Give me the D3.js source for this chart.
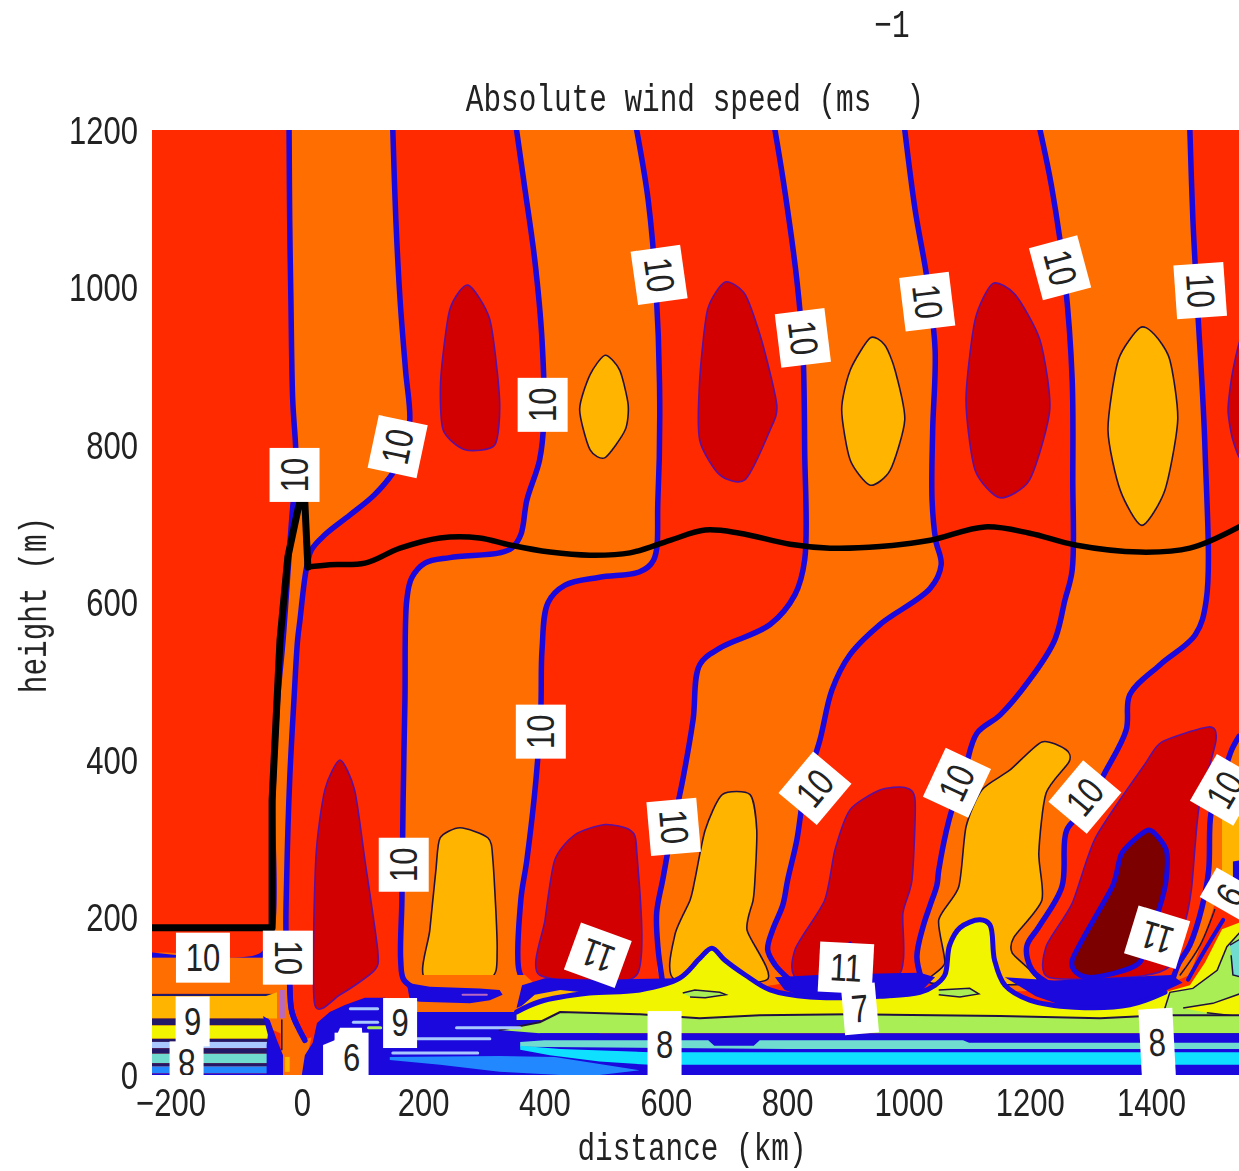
<!DOCTYPE html>
<html>
<head>
<meta charset="utf-8">
<title>Absolute wind speed</title>
<script src="https://cdnjs.cloudflare.com/ajax/libs/d3/7.8.5/d3.min.js"></script>
<style>
  html, body { margin: 0; padding: 0; background: #fff; overflow: hidden; }
  svg { display: block; filter: blur(0.55px); }
  text { font-family: "Liberation Sans", sans-serif; fill: #222; white-space: pre; }
  text.cap { font-family: "Liberation Mono", monospace; }
</style>
</head>
<body>
<div id="chart"></div>
<script>
// tick labels
var xTickValues = [-200, 0, 200, 400, 600, 800, 1000, 1200, 1400];
var yTickValues = [0, 200, 400, 600, 800, 1000, 1200];

// main contour lines, [distance km, height m]
var c1 = [[-21,1200],[-20,1086],[-18,984],[-15,857],[-10,794],[-10,756],[-15,721],[-31,552],[-40,476],[-48,349],[-49,187],[-66,152],[-247,152]];
var c2 = [[150,1200],[155,1086],[162,984],[171,895],[178,832],[170,800],[153,768],[120,737],[79,711],[38,686],[16,667],[7,641],[-3,578],[-7,552],[-13,476],[-20,375],[-25,248],[-26,178],[-20,114],[-16,79],[5,44]];
var c3 = [[354,1200],[368,1124],[384,1035],[396,933],[399,832],[392,781],[371,730],[361,686],[346,669],[326,663],[244,657],[203,650],[181,631],[173,603],[170,476],[167,349],[165,222],[163,146],[168,121],[191,108]];
var c4 = [[552,1200],[571,1111],[584,997],[590,857],[587,730],[580,654],[557,639],[491,632],[434,622],[406,600],[396,540],[394,464],[386,375],[371,273],[361,222],[358,133],[368,118],[392,110]];
var c5 = [[780,1200],[796,1124],[816,1010],[826,921],[829,794],[829,654],[813,610],[772,572],[689,542],[656,521],[645,451],[628,375],[607,298],[595,248],[585,206],[587,163],[594,121]];
var c6 = [[994,1200],[1011,1099],[1031,1010],[1044,921],[1040,819],[1039,730],[1045,679],[1054,648],[1036,618],[953,572],[903,533],[874,489],[854,425],[829,362],[816,298],[801,248],[793,216],[776,184],[768,159],[780,140],[804,121]];
var c7 = [[1217,1200],[1237,1124],[1258,1010],[1270,883],[1271,756],[1270,641],[1258,603],[1241,552],[1200,502],[1151,457],[1113,434],[1093,387],[1067,324],[1050,260],[1047,241],[1036,216],[1024,188],[1014,150],[1022,121]];
var c8 = [[1464,1200],[1469,1086],[1476,984],[1489,794],[1491,603],[1473,559],[1415,521],[1365,483],[1359,438],[1324,384],[1291,337],[1261,311],[1253,239],[1215,188],[1195,163],[1204,133],[1241,112]];
var c9 = [[1545,430],[1533,413],[1517,375],[1499,333],[1495,260],[1484,213],[1464,165],[1446,142],[1434,117]];

// closed contour blobs
var blobA = [[274,1003],[244,972],[229,883],[233,819],[269,794],[318,800],[326,857],[310,959]];
var blobB = [[500,914],[475,889],[458,845],[475,794],[500,784],[533,819],[538,851],[524,895]];
var blobC = [[698,1007],[669,972],[656,883],[656,806],[689,762],[731,756],[772,819],[783,851],[758,933],[731,991]];
var blobD = [[937,936],[904,895],[890,845],[904,781],[937,749],[970,768],[994,832],[978,895],[961,927]];
var blobE = [[1139,1005],[1110,959],[1095,857],[1110,768],[1151,733],[1200,756],[1233,845],[1217,933],[1176,991]];
var blobF = [[1382,949],[1346,908],[1329,819],[1349,743],[1385,698],[1423,743],[1444,832],[1431,908],[1406,940]];
var blobG = [[1550,933],[1535,895],[1527,845],[1535,806],[1550,787]];
var blobH = [[63,400],[38,362],[23,273],[21,91],[63,102],[120,133],[125,159],[104,273],[87,362]];
var blobI = [[261,314],[228,301],[221,260],[211,184],[203,123],[310,123],[322,159],[315,273],[307,301]];
var blobJ = [[500,318],[450,305],[417,273],[401,197],[392,127],[552,127],[552,286],[541,311]];
var blobK = [[693,356],[739,356],[750,311],[747,248],[744,222],[734,184],[767,121],[615,121],[615,178],[640,222],[648,248],[665,311]];
var blobL = [[953,362],[994,365],[1011,349],[1006,248],[991,206],[981,124],[821,121],[813,159],[862,222],[879,286],[904,337]];
var blobM = [[1220,423],[1260,413],[1265,398],[1227,358],[1215,282],[1220,222],[1174,175],[1171,155],[1210,117],[1036,117],[1060,142],[1050,197],[1083,239],[1095,315],[1121,362],[1167,387]];
var blobN = [[1495,442],[1507,425],[1479,340],[1467,239],[1457,197],[1429,137],[1363,124],[1231,124],[1227,163],[1270,218],[1309,302],[1391,396],[1418,423]];
var blobO = [[1396,311],[1425,286],[1425,248],[1413,210],[1380,142],[1297,124],[1270,146],[1336,239],[1352,282]];

// black line: terrain block and layer top
var terrainLine = [[-247,187],[-49,187],[-49,349],[-36,552],[-23,658],[-3,730],[3,759],[10,645]];
var layerTop = [[10,645],[46,648],[104,650],[162,669],[228,682],[293,682],[343,673],[409,664],[475,660],[541,663],[607,679],[665,692],[722,688],[805,674],[871,669],[953,671],[1036,679],[1126,696],[1200,688],[1275,673],[1382,664],[1464,669],[1545,696]];

// flat low levels on the left side, top height of each
var leftTops = [149, 103, 100, 72, 63, 46, 42, 34, 27, 15, 11, 2];
var leftKinds = ["orange", "navy", "amber", "navy", "yellow", "navy", "pale", "navy", "teal", "navy", "sky", "blue"];
var leftEnds = [-30, -42, -41, -55, -55, -55, -55, -55, -55, -55, -55, -55];

// low level shapes
var amberCorner = [[-250,100],[-60,100],[-41,105],[-41,72],[-250,72]];
var orange9 = [[1550,430],[1533,413],[1517,375],[1499,333],[1495,260],[1484,213],[1464,165],[1446,142],[1434,117],[1464,127],[1497,197],[1517,248],[1550,248]];
var amber9 = [[1517,324],[1550,349],[1550,248],[1517,248]];
var blue9 = [[1535,271],[1550,273],[1550,241],[1535,241]];
var mountBlue = [[-64,75],[-53,70],[-41,44],[-31,25],[-31,0],[-58,0],[-58,38],[-56,51]];
var mountOrange = [[-35,114],[-20,114],[-23,76],[2,44],[16,48],[5,10],[3,0],[-31,0],[-35,40]];
var mountAmber = [[-28,23],[-20,23],[-20,4],[-28,4]];
var mountViolet = [[-36,108],[-28,108],[-28,72],[-36,72]];
var orangeBottom = [[191,108],[170,95],[170,80],[354,80],[381,102],[392,110],[368,127],[195,127]];
var blueLens = [[173,117],[211,112],[293,110],[326,108],[331,102],[310,95],[277,91],[195,93],[178,95]];
var blueMass = [[0,0],[5,25],[18,41],[25,66],[46,80],[71,89],[104,98],[137,98],[186,80],[354,80],[392,70],[426,60],[491,53],[491,0]];
var blueBand1 = [[363,114],[401,123],[491,121],[623,123],[640,114],[607,108],[557,108],[491,104],[442,99],[384,95],[354,85]];
var blueBand2 = [[780,124],[850,127],[1019,130],[1044,124],[1019,105],[953,98],[838,97],[796,108]];
var blueBand3 = [[1159,124],[1241,120],[1434,127],[1452,117],[1365,86],[1274,83],[1210,100]];
var blueCap = [[884,157],[904,170],[924,157],[924,130],[884,130]];
var amberWedge = [[351,80],[384,102],[426,108],[474,104],[392,93],[354,80]];
var yellowTop = [[354,80],[392,93],[474,104],[557,108],[623,123],[656,148],[676,161],[697,146],[731,127],[772,108],[838,99],[953,100],[1019,105],[1044,114],[1060,127],[1068,165],[1085,187],[1118,197],[1134,191],[1142,146],[1159,114],[1200,95],[1274,86],[1365,89],[1423,105]];
var yellowRight = [[1423,105],[1464,114],[1489,143],[1517,185],[1550,195]];
var yellowBase = [[1550,70],[354,70]];
var greenRight = [[1420,78],[1431,105],[1469,110],[1509,133],[1525,163],[1550,184],[1550,53],[1420,53]];
var greenBlob = [[1530,165],[1550,174],[1550,124],[1535,127],[1532,152]];
var yellowSliver = [[1453,85],[1502,91],[1550,104],[1550,74],[1492,79]];
var streakA = [[628,104],[648,108],[689,105],[699,102],[665,98],[640,99]];
var streakB = [[1050,108],[1101,110],[1116,103],[1085,99],[1050,102]];
var bluePath9 = [[1461,121],[1489,159],[1519,197]];
var darkPath9 = [[1448,127],[1481,165],[1505,210]];
var greenTop = [[326,57],[392,67],[426,80],[557,77],[656,72],[755,76],[903,77],[1151,75],[1316,72],[1423,76],[1550,76]];
var greenBase = [[1550,53],[392,53]];
var stripeBlue = [[392,53],[1550,53],[1550,0],[392,0]];
var tealStripe = [[360,42],[400,44],[670,44],[680,37],[745,37],[755,44],[1090,44],[1100,41],[1550,41],[1550,33],[800,33],[360,36]];
var cyanStripe = [[360,37],[426,33],[574,29],[1550,29],[1550,13],[574,13],[491,17],[409,25],[360,32]];
var skyWedge = [[145,23],[326,24],[417,23],[557,6],[491,0],[426,0],[326,4],[228,13],[145,19]];
var paleStreaks = [
  [[255,60],[360,60]],
  [[190,46],[310,46]],
  [[80,84],[125,84]],
  [[85,67],[125,67]],
  [[150,28],[290,28]]
];
var limeStreak = [[110,60],[130,60]];
var violetStreak = [[265,102],[305,102]];
var lowDarkLine = [[-33,70],[-33,32]];
var whitePatch = [[35,0],[35,38],[54,44],[63,60],[99,60],[104,0]];

// contour labels: [distance, height, rotation, text]
var labelRows = [
  [-12,762,-90,"10"],[158,798,-78,"10"],[397,851,-90,"10"],[589,1016,82,"10"],
  [826,936,83,"10"],[1031,982,83,"10"],[1250,1025,75,"10"],[1481,996,86,"10"],
  [394,436,-90,"10"],[168,267,-90,"10"],[613,315,85,"10"],[846,364,-50,"10"],
  [1080,371,-65,"10"],[1291,353,-50,"10"],[1522,362,-60,"10"],
  [-163,149,0,"10"],[-23,149,90,"10"],
  [488,152,200,"11"],[897,136,3,"11"],[1410,175,197,"11"],
  [920,84,-5,"7"],
  [-180,68,0,"9"],[-190,16,180,"8"],[162,66,0,"9"],[82,22,0,"6"],
  [598,38,0,"8"],[1410,41,-3,"8"],[1530,229,120,"9"]
];
// height of each label's white box, same order as labelRows
var labelBoxHeights = [50,50,50,50,50,50,50,50,50,50,50,50,50,50,50,50,50,50,50,50,50,50,42,50,50,68,68,50];

var width = 1239, height = 1171;
var plotLeft = 152, plotTop = 130, plotBottom = 1075;
var tickStretch = 1.25;
var capStretch = 1.3;

var colors = {
  red: "#ff2a00", orange: "#ff6e00", amber: "#ffb400", yellow: "#f2f500",
  dark: "#d20000", deep: "#7c0000", green: "#aaee55", teal: "#70dcd0",
  cyan: "#10e0ff", sky: "#2288ff", pale: "#a8c8ff", blue: "#1a08dc",
  navy: "#221868", violet: "#b868c0", thin: "#5a10a0", ink: "#201040"
};

var svg = d3.select("#chart").append("svg")
  .attr("width", width)
  .attr("height", height);

var x = d3.scaleLinear().domain([-247, 1545]).range([plotLeft, width]);
var y = d3.scaleLinear().domain([0, 1200]).range([plotBottom, plotTop]);

svg.append("clipPath").attr("id", "plotClip")
  .append("rect")
  .attr("x", plotLeft).attr("y", plotTop)
  .attr("width", width - plotLeft).attr("height", plotBottom - plotTop);

var plot = svg.append("g").attr("clip-path", "url(#plotClip)");

var smooth = d3.line().x(function (d) { return x(d[0]); }).y(function (d) { return y(d[1]); }).curve(d3.curveCatmullRom);
var straight = d3.line().x(function (d) { return x(d[0]); }).y(function (d) { return y(d[1]); });
var blobLine = d3.line().x(function (d) { return x(d[0]); }).y(function (d) { return y(d[1]); }).curve(d3.curveCardinalClosed.tension(0.3));

function fillShape(points, color, lineFn) {
  return plot.append("path").attr("d", (lineFn || straight)(points)).attr("fill", color);
}

function strokeLine(points, color, w, lineFn) {
  return plot.append("path").attr("d", (lineFn || smooth)(points))
    .attr("fill", "none").attr("stroke", color).attr("stroke-width", w)
    .attr("stroke-linejoin", "round").attr("stroke-linecap", "round");
}

function blob(points, color, edge, edgeW) {
  fillShape(points, color, blobLine).attr("stroke", edge).attr("stroke-width", edgeW || 1.6);
}

// base colour and the orange bands between contours
plot.append("rect").attr("x", plotLeft).attr("y", plotTop)
  .attr("width", width - plotLeft).attr("height", plotBottom - plotTop)
  .attr("fill", colors.red);

[[c1, c2], [c3, c4], [c5, c6], [c7, c8]].forEach(function (pair) {
  fillShape(pair[0].concat(pair[1].slice().reverse()), colors.orange, smooth);
});
fillShape(orange9, colors.orange);
fillShape(amber9, colors.amber);
fillShape(blue9, colors.blue);

// upper and lower blobs
blob(blobA, colors.dark, colors.thin);
blob(blobB, colors.amber, colors.ink);
blob(blobC, colors.dark, colors.thin);
blob(blobD, colors.amber, colors.ink);
blob(blobE, colors.dark, colors.thin);
blob(blobF, colors.amber, colors.ink);
blob(blobG, colors.dark, colors.thin);
blob(blobH, colors.dark, colors.thin);
blob(blobI, colors.amber, colors.ink);
blob(blobJ, colors.dark, colors.thin);
blob(blobK, colors.amber, colors.ink);
blob(blobL, colors.dark, colors.thin);
blob(blobM, colors.amber, colors.ink);
blob(blobN, colors.dark, colors.thin);
blob(blobO, colors.deep, colors.blue, 5);

// 10 m/s contours
[c1, c2, c3, c4, c5, c6, c7, c8, c9].forEach(function (c) {
  strokeLine(c, colors.blue, 5.5);
});

// low level layers, painted from the top down
fillShape(orangeBottom, colors.orange);
fillShape(blueLens, colors.blue);
strokeLine(violetStreak, colors.violet, 2, straight);

leftTops.forEach(function (top, i) {
  var base = i + 1 < leftTops.length ? leftTops[i + 1] : 0;
  plot.append("rect")
    .attr("x", x(-250)).attr("y", y(top))
    .attr("width", x(leftEnds[i]) - x(-250))
    .attr("height", y(base) - y(top))
    .attr("fill", colors[leftKinds[i]]);
});
fillShape(amberCorner, colors.amber);

fillShape(mountOrange, colors.orange);
fillShape(mountViolet, colors.violet);
fillShape(mountAmber, colors.amber);
fillShape(mountBlue, colors.blue);
strokeLine(lowDarkLine, colors.ink, 1.5, straight);
strokeLine(c2.slice(-3), colors.blue, 5.5);

fillShape(blueMass, colors.blue);
fillShape(blueBand1, colors.blue);
fillShape(blueBand2, colors.blue);
fillShape(blueBand3, colors.blue);
fillShape(blueCap, colors.blue);
fillShape(amberWedge, colors.amber);

fillShape(yellowTop.concat(yellowRight).concat(yellowBase), colors.yellow);
strokeLine(yellowTop, colors.blue, 5);
strokeLine(bluePath9, colors.blue, 4);
strokeLine(darkPath9, colors.ink, 1.5);
fillShape(streakA, colors.green).attr("stroke", colors.ink).attr("stroke-width", 1.5);
fillShape(streakB, colors.green).attr("stroke", colors.ink).attr("stroke-width", 1.5);

fillShape(greenRight, colors.green).attr("stroke", colors.ink).attr("stroke-width", 1.5);
fillShape(greenBlob, colors.teal).attr("stroke", colors.ink).attr("stroke-width", 1.5);
fillShape(yellowSliver, colors.yellow).attr("stroke", colors.ink).attr("stroke-width", 1.5);

fillShape(greenTop.concat(greenBase), colors.green);
strokeLine(greenTop, colors.ink, 2, straight);
fillShape(stripeBlue, colors.blue);
fillShape(tealStripe, colors.teal);
fillShape(cyanStripe, colors.cyan);
fillShape(skyWedge, colors.sky);
paleStreaks.forEach(function (s) { strokeLine(s, colors.pale, 3, straight); });
strokeLine(limeStreak, colors.green, 3, straight);

// black terrain and layer top lines
strokeLine(terrainLine, "#000", 7, straight);
strokeLine(layerTop, "#000", 5.5);

fillShape(whitePatch, "#fff");

// contour labels with their white boxes
var labels = plot.selectAll(".clabel").data(labelRows).enter().append("g")
  .attr("class", "clabel")
  .attr("transform", function (d) {
    return "translate(" + x(d[0]) + "," + y(d[1]) + ") rotate(" + d[2] + ")";
  });

labels.append("rect")
  .attr("x", function (d) { return d[3].length > 1 ? -27 : -17; })
  .attr("y", function (d, i) { return -labelBoxHeights[i] / 2; })
  .attr("width", function (d) { return d[3].length > 1 ? 54 : 34; })
  .attr("height", function (d, i) { return labelBoxHeights[i]; })
  .attr("fill", "#fff");

labels.append("text")
  .attr("text-anchor", "middle")
  .attr("y", 10.5)
  .attr("transform", "scale(1," + tickStretch + ")")
  .attr("font-size", 31)
  .text(function (d) { return d[3]; });

// axes
var xAxis = svg.append("g")
  .attr("transform", "translate(0," + plotBottom + ")")
  .call(d3.axisBottom(x).tickValues(xTickValues).tickFormat(d3.format("d")).tickSize(0));
var yAxis = svg.append("g")
  .attr("transform", "translate(" + plotLeft + ",0)")
  .call(d3.axisLeft(y).tickValues(yTickValues).tickFormat(d3.format("d")).tickSize(0));

xAxis.select(".domain").remove();
yAxis.select(".domain").remove();

xAxis.selectAll("text")
  .attr("dy", 0)
  .attr("y", 33)
  .attr("x", function (d) { return d < 0 ? -10 : 0; })
  .attr("transform", "scale(1," + tickStretch + ")")
  .attr("font-size", 31);

yAxis.selectAll("text")
  .attr("dy", 0)
  .attr("x", -14)
  .attr("y", 10.5)
  .attr("transform", "scale(1," + tickStretch + ")")
  .attr("font-size", 31);

function caption(cx, cy, txt, rot) {
  svg.append("g")
    .attr("transform", "translate(" + cx + "," + cy + ") rotate(" + (rot || 0) + ")")
    .append("text")
    .attr("class", "cap")
    .attr("text-anchor", "middle")
    .attr("y", 9.5)
    .attr("transform", "scale(1," + capStretch + ")")
    .attr("font-size", 29.4)
    .text(txt);
}

caption(695, 99, "Absolute wind speed (ms  )");
caption(892, 25, "\u22121");
caption(692, 1148, "distance (km)");
caption(34, 605, "height (m)", -90);
</script>
</body>
</html>
